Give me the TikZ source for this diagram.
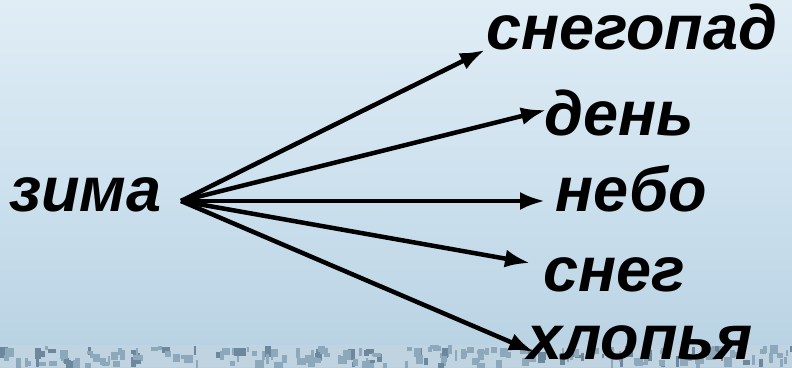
\documentclass[tikz,border=0pt]{standalone}
\usepackage{fontspec}
\setmainfont{Liberation Sans}
\usetikzlibrary{arrows.meta}
\definecolor{bgtop}{HTML}{E0EDF5}
\definecolor{bgmid}{HTML}{CDE1EE}
\definecolor{bgbot}{HTML}{B7D1E2}
\definecolor{stripA}{HTML}{8EA8BB}
\definecolor{stripB}{HTML}{BFD3E0}
\definecolor{stripC}{HTML}{6D889C}
\tikzset{
  word/.style={anchor=base west, inner sep=0pt, font=\fontsize{63}{67}\selectfont\bfseries\itshape, text=black},
  link/.style={line width=4.5pt, -{Latex[length=25pt,width=18pt]}}
}
\begin{document}
\begin{tikzpicture}[x=1pt,y=-1pt]
\useasboundingbox (0,0) rectangle (792,367);
% background
\shade[top color=bgtop, bottom color=bgbot, middle color=bgmid] (0,0) rectangle (792,367);
% textured strip
\fill[stripB] (0,345) rectangle (792,367);
\pgfmathsetseed{7}
\foreach \i in {0,...,200}{
  \pgfmathsetmacro{\xx}{rnd*792}
  \pgfmathsetmacro{\yy}{345+rnd*18}
  \pgfmathsetmacro{\ww}{2+rnd*7}
  \pgfmathsetmacro{\hh}{3+rnd*8}
  \pgfmathsetmacro{\kk}{rnd}
  \ifdim\kk pt<0.3pt
    \fill[stripC] (\xx,\yy) rectangle ++(\ww,\hh);
  \else
    \fill[stripA] (\xx,\yy) rectangle ++(\ww,\hh);
  \fi
}
% words
\node[word] (zima) at (9,211) {зима};
\node[word] (snegopad) at (486,49) {снегопад};
\node[word] (den) at (544,135) {день};
\node[word] (nebo) at (555,211) {небо};
\node[word] (sneg) at (543,291) {снег};
\node[word] (hlopya) at (527,359) {хлопья};
% hub and tips
\coordinate (hub) at (181,201);
\coordinate (t1) at (485,50);
\coordinate (t2) at (546,110);
\coordinate (t3) at (545,201);
\coordinate (t4) at (530,263);
\coordinate (t5) at (534,352);
\draw[link] (hub) -- (t1);
\draw[link] (hub) -- (t2);
\draw[link] (hub) -- (t3);
\draw[link] (hub) -- (t4);
\draw[link] (hub) -- (t5);
\end{tikzpicture}
\end{document}
